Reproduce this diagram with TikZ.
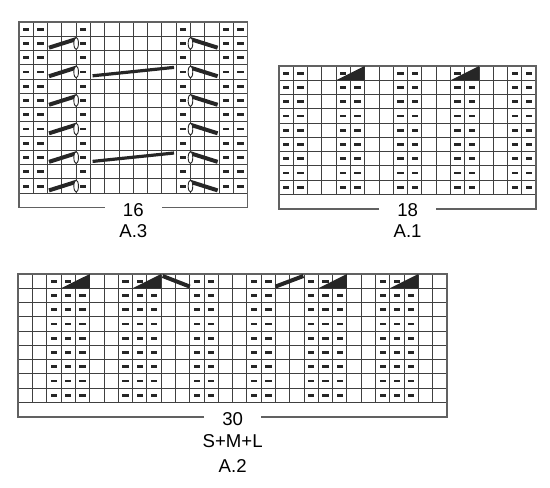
\documentclass[tikz,border=0pt]{standalone}
\usepackage{fontspec}
\setmainfont{Liberation Sans}
\tikzset{
  gridline/.style={line width=1pt, black!75},
  frameline/.style={line width=1.7pt, black!62},
  purl/.style={fill=black!85},
  cable/.style={line width=4pt, black!85},
  longcable/.style={line width=3.2pt, black!85},
  twist/.style={draw=black!85, fill=white, line width=0.9pt},
  chartlabel/.style={inner sep=0pt, font=\fontsize{18.6pt}{20pt}\selectfont}
}
\newcommand{\chartframe}[2]{%
  \foreach \c in {0,...,#1} \draw[gridline] (\c,0) -- (\c,#2);
  \foreach \r in {0,...,#2} \draw[gridline] (0,\r) -- (#1,\r);
  \draw[frameline] (#1/2-2,#2+1) -- (0,#2+1) -- (0,0) -- (#1,0) -- (#1,#2+1) -- (#1/2+2,#2+1);
}
\newcommand{\purlcell}[2]{\fill[purl] (#1-.72,#2-.6) rectangle (#1-.28,#2-.4);}
\begin{document}
\begin{tikzpicture}[x=1pt, y=-1pt]
\useasboundingbox (0,0) rectangle (550,488);
\begin{scope}[shift={(19,22)}, x=14.29pt, y=-14.27pt]
  \chartframe{16}{12}
  \foreach \r in {1,...,12} \foreach \c in {1,2,5,12,15,16} {\purlcell{\c}{\r}}
  \foreach \r in {2,4,...,12} {
    \draw[cable] (2.1,\r-.2) -- (4,\r-.8);
    \draw[cable] (12,\r-.8) -- (13.9,\r-.2);
    \draw[twist] (4,\r-.5) ellipse [x radius=2.3pt, y radius=6pt];
    \draw[twist] (12,\r-.5) ellipse [x radius=2.3pt, y radius=6pt];
  }
  \foreach \r in {4,10} \draw[longcable] (5.15,\r-.23) -- (10.85,\r-.82);
  \node[chartlabel] (count3) at (8,13.16) {16};
  \node[chartlabel] (name3) at (8,14.63) {A.3};
\end{scope}
\begin{scope}[shift={(279,66)}, x=14.29pt, y=-14.27pt]
  \chartframe{18}{9}
  \foreach \r in {1,...,9} \foreach \c in {1,2,5,6,9,10,13,14,17,18} {\purlcell{\c}{\r}}
  \foreach \a in {4,12} \fill[purl] (\a,1) -- (\a+2,1) -- (\a+2,0) -- cycle;
  \node[chartlabel] (count1) at (9,10.09) {18};
  \node[chartlabel] (name1) at (9,11.56) {A.1};
\end{scope}
\begin{scope}[shift={(18.3,274)}, x=14.29pt, y=-14.27pt]
  \chartframe{30}{9}
  \foreach \r in {1,...,9} \foreach \c in {3,4,5,8,9,10,13,14,17,18,21,22,23,26,27,28} {\purlcell{\c}{\r}}
  \foreach \a in {3,8,21,26} \fill[purl] (\a,1) -- (\a+2,1) -- (\a+2,0) -- cycle;
  \draw[cable] (10.1,.14) -- (12,.88);
  \draw[cable] (18,.88) -- (19.95,.14);
  \node[chartlabel] (count2) at (15,10.17) {30};
  \node[chartlabel] (sizes2) at (15,11.69) {S+M+L};
  \node[chartlabel] (name2) at (15,13.48) {A.2};
\end{scope}
\end{tikzpicture}
\end{document}
